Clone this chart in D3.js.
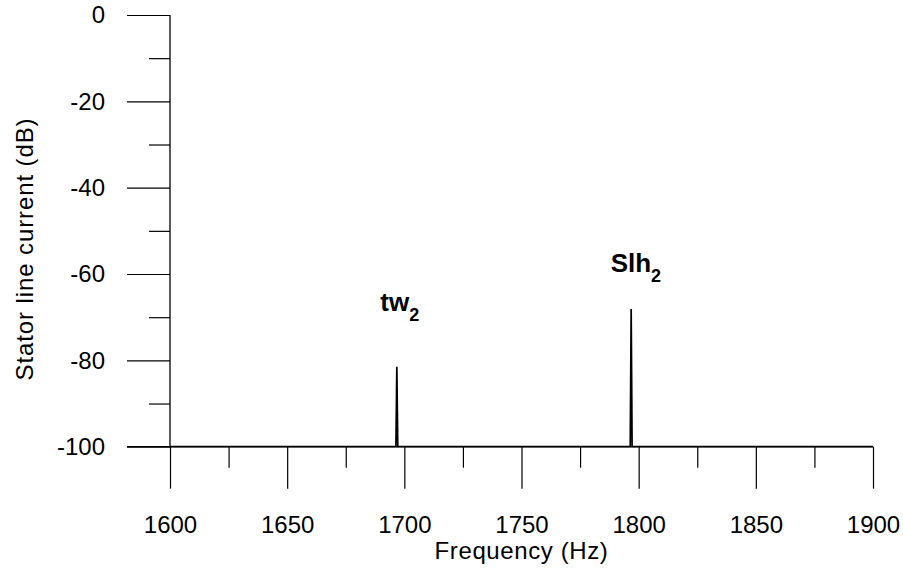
<!DOCTYPE html>
<html>
<head>
<meta charset="utf-8">
<script src="https://cdn.jsdelivr.net/npm/d3@7"></script>
<style>
  html, body { margin: 0; padding: 0; background: #fff; }
  svg text { font-family: Arial, "Liberation Sans", sans-serif; fill: #000; }
</style>
</head>
<body>
<svg id="chart" width="903" height="568"></svg>
<script>
// Spectrum of the stator line current: flat noise floor with two harmonic peaks
const freqHz = [1600, 1696.4, 1696.8, 1697.2, 1796.4, 1796.8, 1797.2, 1900];
const levelDb = [-100, -100, -81.5, -100, -100, -68.1, -100, -100];

const xTicksMajor = [1600, 1650, 1700, 1750, 1800, 1850, 1900];
const xTicksMinor = [1625, 1675, 1725, 1775, 1825, 1875];
const yTicksMajor = [0, -20, -40, -60, -80, -100];
const yTicksMinor = [-10, -30, -50, -70, -90];

const peakNames = ["tw", "Slh"];
const peakSubs = ["2", "2"];
const peakFreq = [1697, 1797];
const peakDb = [-81.5, -68.1];

const svg = d3.select("#chart");
const plotLeft = 170, plotRight = 873, plotTop = 15, plotBottom = 446.7;

const x = d3.scaleLinear().domain([1600, 1900]).range([plotLeft, plotRight]);
const y = d3.scaleLinear().domain([-100, 0]).range([plotBottom, plotTop]);
const plainInt = d => String(d); // keeps the ASCII hyphen for negatives

// x axis: long ticks at 50 Hz, short ticks between
const gx = svg.append("g").attr("transform", `translate(0,${plotBottom})`);
gx.call(d3.axisBottom(x).tickValues(xTicksMajor).tickSize(42).tickPadding(27).tickFormat(plainInt));
gx.append("g").call(d3.axisBottom(x).tickValues(xTicksMinor).tickSize(21).tickFormat(""));
gx.selectAll(".domain").remove();
gx.append("line").attr("x1", plotLeft - 43).attr("x2", plotRight).attr("stroke", "#000").attr("stroke-width", 1.3);

// y axis: long ticks at 20 dB, short ticks between
const gy = svg.append("g").attr("transform", `translate(${plotLeft},0)`);
gy.call(d3.axisLeft(y).tickValues(yTicksMajor).tickSize(43).tickPadding(22).tickFormat(plainInt));
gy.append("g").call(d3.axisLeft(y).tickValues(yTicksMinor).tickSize(21).tickFormat(""));
gy.selectAll(".domain").remove();
gy.append("line").attr("y1", plotTop).attr("y2", plotBottom).attr("stroke", "#000").attr("stroke-width", 1.3);

svg.selectAll(".tick line").attr("stroke", "#000").attr("stroke-width", 1.2);
svg.selectAll(".tick text").style("font-size", "24px").attr("fill", "#000");

// spectrum trace
const line = d3.line().x((d, i) => x(freqHz[i])).y((d, i) => y(levelDb[i]));
svg.append("path")
  .datum(levelDb)
  .attr("d", line)
  .attr("fill", "none")
  .attr("stroke", "#000")
  .attr("stroke-width", 1.7);

// peak annotations, placed above each peak
const labelShift = [{ dx: -17, dy: -56 }, { dx: -21, dy: -37 }];
peakNames.forEach((name, i) => {
  const t = svg.append("text")
    .attr("x", x(peakFreq[i]) + labelShift[i].dx)
    .attr("y", y(peakDb[i]) + labelShift[i].dy)
    .style("font-size", "26px")
    .style("font-weight", "bold");
  t.append("tspan").text(name);
  t.append("tspan").text(peakSubs[i]).attr("dy", 10).style("font-size", "18px");
});

// axis titles
svg.append("text")
  .attr("x", x(1750))
  .attr("y", 559)
  .attr("text-anchor", "middle")
  .style("font-size", "24px")
  .style("letter-spacing", "0.6px")
  .text("Frequency (Hz)");

svg.append("text")
  .attr("transform", "translate(33,249) rotate(-90)")
  .attr("text-anchor", "middle")
  .style("font-size", "24px")
  .style("letter-spacing", "0.9px")
  .text("Stator line current (dB)");
</script>
</body>
</html>
